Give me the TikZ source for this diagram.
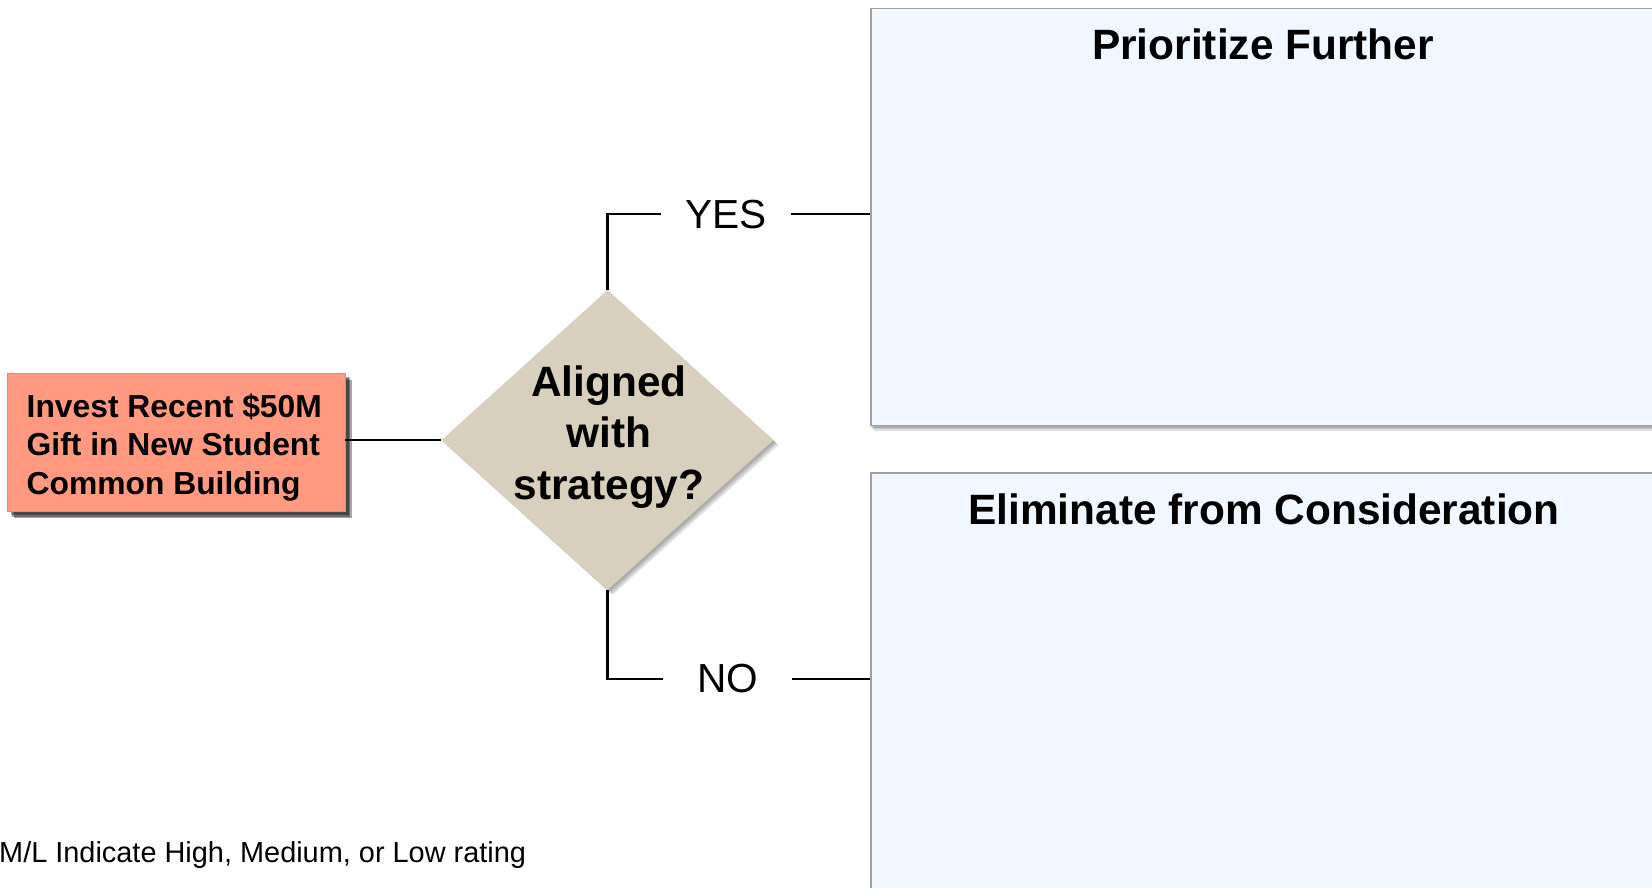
\documentclass[tikz,border=0pt]{standalone}
\usepackage{fontspec}
\setmainfont{Liberation Sans}
\usetikzlibrary{shapes.geometric,shadows}
\definecolor{salmon}{HTML}{FF9980}
\definecolor{khaki}{HTML}{D8D0BD}
\definecolor{paleblue}{HTML}{F0F7FF}
\definecolor{frame}{HTML}{A0A0A0}
\begin{document}
\begin{tikzpicture}[x=1pt,y=-1pt,
  wire/.style={line width=2.2pt,draw=black},
  % soft shadow built from a few stacked, slightly offset copies
  softshadow/.style n args={3}{
    drop shadow={shadow xshift=#1-1.5pt,shadow yshift=#2+1.5pt,fill=black,opacity=#3},
    drop shadow={shadow xshift=#1,shadow yshift=#2,fill=black,opacity=#3},
    drop shadow={shadow xshift=#1+1.5pt,shadow yshift=#2-1.5pt,fill=black,opacity=#3}},
  panel/.style={draw=frame,line width=1.5pt,fill=paleblue,inner sep=0pt,
    minimum width=785pt,minimum height=417pt,
    softshadow={1pt}{-3.5pt}{0.12}},
  paneltitle/.style={inner sep=0pt,font=\fontsize{42.4pt}{50pt}\selectfont\bfseries},
  srcbox/.style={fill=salmon,draw=salmon!90!black,line width=0.6pt,inner sep=0pt,
    minimum width=337.7pt,minimum height=138.4pt,
    softshadow={5pt}{-5pt}{0.35}},
  srctext/.style={inner sep=0pt,align=left,font=\fontsize{31.8pt}{38.5pt}\selectfont\bfseries},
  decision/.style={diamond,fill=khaki,inner sep=0pt,minimum width=332pt,minimum height=300pt,
    softshadow={3.5pt}{-3.5pt}{0.12}},
  question/.style={inner sep=0pt,align=center,font=\fontsize{42.4pt}{51.6pt}\selectfont\bfseries},
  answer/.style={inner sep=0pt,minimum width=129pt,font=\fontsize{40.6pt}{48pt}\selectfont},
  note/.style={inner sep=0pt,font=\fontsize{28.9pt}{35pt}\selectfont}]
\useasboundingbox (0,0) rectangle (1652,887);
\clip (0,0) rectangle (1652,887);

% outcome panels
\node[panel] (top) at (1263.5,217) {};
\node[panel] (bot) at (1263.5,681.6) {};
\node[paneltitle,anchor=base] (toptitle) at (1263,59.4) {Prioritize Further};
\node[paneltitle,anchor=base] (bottitle) at (1264,524.1) {Eliminate from Consideration};

% initiative being evaluated
\node[srcbox] (src) at (176.2,442.5) {};
\node[srctext,anchor=west] (srctxt) at (26.5,447.2) {Invest Recent \$50M\\Gift in New Student\\Common Building};

% decision point
\node[decision] (dia) at (607.5,440) {};
\node[question] (q) at (609,437) {Aligned\\with\\strategy?};

% branch labels
\node[answer] (yes) at (726,214.3) {YES};
\node[answer] (no) at (727.5,678.8) {NO};

% connectors
\draw[wire] (src.east |- dia.west) -- (dia.west);
\draw[wire] (dia.north) |- (yes.west);
\draw[wire] (yes.east) -- (yes.east -| top.west);
\draw[wire] (dia.south) |- (no.west);
\draw[wire] (no.east) -- (no.east -| bot.west);

% rating key
\node[note,anchor=base west] (key) at (-1,862) {M/L Indicate High, Medium, or Low rating};
\end{tikzpicture}
\end{document}
